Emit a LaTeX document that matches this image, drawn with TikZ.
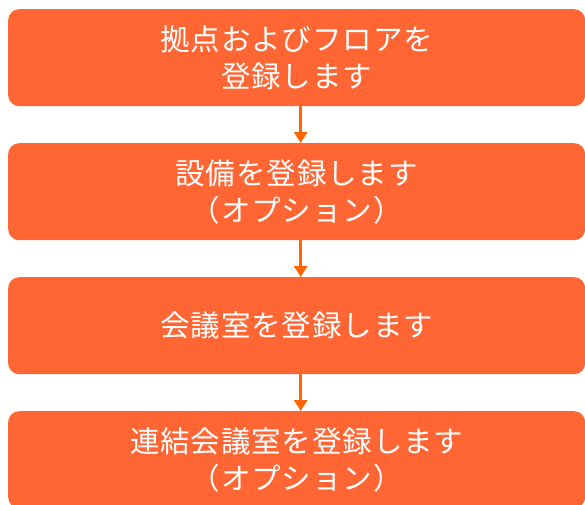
\documentclass[tikz,border=0pt]{standalone}
\usepackage{fontspec}
\setmainfont[LetterSpace=3]{Noto Sans CJK JP}
\usetikzlibrary{arrows.meta}
\definecolor{boxorange}{RGB}{255,102,51}
\definecolor{arroworange}{RGB}{255,102,0}
\begin{document}
\begin{tikzpicture}[x=1pt,y=1pt,
  stepbox/.style={fill=boxorange, draw=none, rounded corners=11pt, minimum width=577pt, minimum height=97pt, inner sep=0pt,
    text=white, align=center, font=\fontsize{29.5}{37}\selectfont, anchor=north west},
  flow/.style={draw=arroworange, line width=3pt, -{Triangle[width=13pt,length=11pt]}}]
\useasboundingbox (0,0) rectangle (585,-504);
\clip (0,0) rectangle (585,-504);
\node[stepbox] (b1) at (8,-9) {拠点およびフロアを\\登録します};
\node[stepbox] (b2) at (8,-143) {設備を登録します\\（オプション）};
\node[stepbox] (b3) at (8,-277) {会議室を登録します};
\node[stepbox] (b4) at (8,-411) {連結会議室を登録します\\（オプション）};
\draw[flow] ([xshift=4pt]b1.south) -- ([xshift=4pt]b2.north);
\draw[flow] ([xshift=4pt]b2.south) -- ([xshift=4pt]b3.north);
\draw[flow] ([xshift=4pt]b3.south) -- ([xshift=4pt]b4.north);
\end{tikzpicture}
\end{document}
